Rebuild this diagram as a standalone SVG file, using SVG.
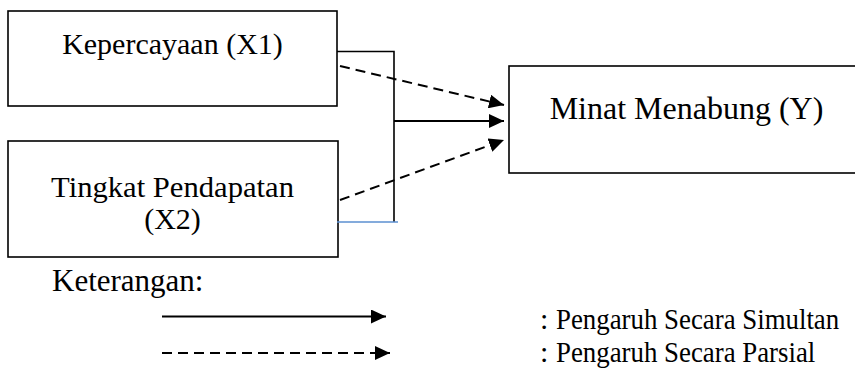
<svg xmlns="http://www.w3.org/2000/svg" width="855" height="368" viewBox="0 0 855 368">
<defs>
<marker id="ah" markerUnits="userSpaceOnUse" markerWidth="16" markerHeight="14" refX="15" refY="7" orient="auto">
<path d="M0,0 L15,7 L0,14 Z" fill="#000"/>
</marker>
<style>
.box{fill:#fff;stroke:#000;stroke-width:1.6}
.bt{font-family:"Liberation Serif","DejaVu Serif",serif;font-size:30px;fill:#000;text-anchor:middle}
.lt{font-family:"Liberation Serif",serif;font-size:30px;fill:#000}
.ln{fill:none;stroke:#000;stroke-width:2}
.dash{stroke-dasharray:10,6}
</style>
</defs>
<rect width="855" height="368" fill="#fff"/>
<g id="node-x1">
<rect class="box" x="8" y="11" width="329" height="95"/>
<text class="bt" x="172.5" y="54">Kepercayaan (X1)</text>
</g>
<g id="node-x2">
<rect class="box" x="8" y="141" width="330" height="116"/>
<text class="bt" x="172.5" y="197" textLength="243" lengthAdjust="spacingAndGlyphs">Tingkat Pendapatan</text>
<text class="bt" x="172.5" y="229">(X2)</text>
</g>
<g id="node-y">
<rect class="box" x="509" y="66" width="360" height="107"/>
<text class="bt" x="686.5" y="119" style="font-size:32px">Minat Menabung (Y)</text>
</g>
<g id="connectors">
<polyline class="ln" points="337,51.5 394,51.5 394,222" style="stroke-width:1.6"/>
<line x1="337" y1="222" x2="398" y2="222" stroke="#5b8fd0" stroke-width="1.6"/>
<line class="ln" x1="394" y1="121" x2="504" y2="121" marker-end="url(#ah)"/>
<line class="ln dash" x1="340" y1="66" x2="504" y2="105" marker-end="url(#ah)"/>
<line class="ln dash" x1="340" y1="200" x2="504" y2="140" marker-end="url(#ah)"/>
</g>
<g id="legend">
<text class="lt" x="52" y="291" style="font-size:31px">Keterangan:</text>
<line class="ln" x1="162" y1="316.5" x2="386" y2="316.5" marker-end="url(#ah)"/>
<line class="ln dash" x1="162" y1="353" x2="390" y2="353" marker-end="url(#ah)"/>
<text class="lt" x="540" y="329">:</text>
<text class="lt" transform="translate(556,329) scale(0.895,1)">Pengaruh Secara Simultan</text>
<text class="lt" x="540" y="362">:</text>
<text class="lt" transform="translate(556,362) scale(0.895,1)">Pengaruh Secara Parsial</text>
</g>
</svg>
